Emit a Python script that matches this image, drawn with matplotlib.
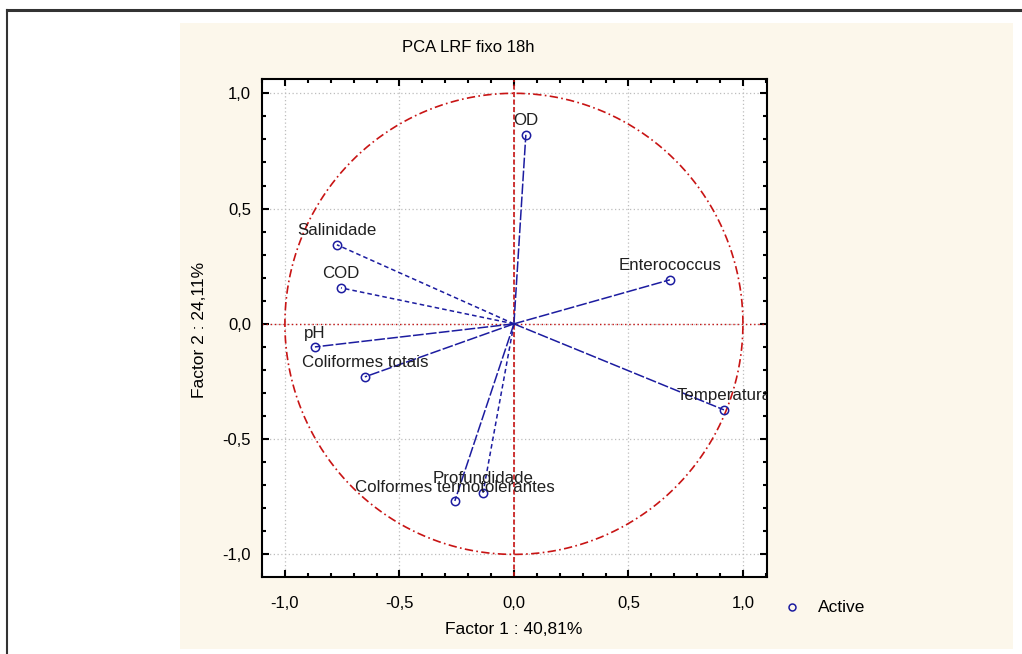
import numpy as np
import matplotlib
matplotlib.use("Agg")
import matplotlib.pyplot as plt
import matplotlib.transforms as mtransforms
from matplotlib.lines import Line2D
from matplotlib.patches import Rectangle
from matplotlib.ticker import MultipleLocator, FuncFormatter

plt.rcParams['font.family'] = ['Liberation Sans', 'DejaVu Sans']

# ---- data ----
variables = ["OD", "Enterococcus", "Temperatura", "Salinidade", "COD", "pH",
             "Coliformes totais", "Colformes termotolerantes", "Profundidade"]
factor1 = [0.052, 0.681, 0.917, -0.773, -0.755, -0.869, -0.651, -0.258, -0.135]
factor2 = [0.820, 0.191, -0.373, 0.343, 0.156, -0.100, -0.230, -0.768, -0.733]
title = "PCA LRF fixo 18h"
xlabel = "Factor 1 : 40,81%"
ylabel = "Factor 2 : 24,11%"
legend_label = "Active"

# styles per vector (dashed vs near-solid)
dashed_vars = {"Salinidade", "COD", "Profundidade"}

W, H = 1022, 654
fig = plt.figure(figsize=(W / 100, H / 100), dpi=100)
fig.patch.set_facecolor("white")

def fx(px):
    return px / W

def fy(py):
    return 1 - py / H

# beige panel
fig.add_artist(Rectangle((fx(180), fy(649)), fx(1013) - fx(180), fy(23) - fy(649),
                         transform=fig.transFigure, facecolor="#fcf7eb",
                         edgecolor="none", zorder=-10))
# page border (top and left)
fig.add_artist(Line2D([fx(7), 1.0], [fy(10), fy(10)], transform=fig.transFigure,
                      color="#333333", lw=2.2))
fig.add_artist(Line2D([fx(7), fx(7)], [fy(10), 0.0], transform=fig.transFigure,
                      color="#333333", lw=1.5))

ax = fig.add_axes([fx(262), fy(577), fx(767) - fx(262), fy(79) - fy(577)])
ax.set_facecolor("white")
ax.set_xlim(-1.1, 1.105)
ax.set_ylim(-1.098, 1.062)

# grid
ax.xaxis.set_major_locator(MultipleLocator(0.5))
ax.yaxis.set_major_locator(MultipleLocator(0.5))
ax.xaxis.set_minor_locator(MultipleLocator(0.1))
ax.yaxis.set_minor_locator(MultipleLocator(0.1))
ax.grid(True, which="major", color="#bdbdbd", linestyle=(0, (1, 2)), lw=0.9)
ax.set_axisbelow(True)

fmt = FuncFormatter(lambda v, p: ("%.1f" % v).replace(".", ",").replace("-0,0", "0,0"))
ax.xaxis.set_major_formatter(fmt)
ax.yaxis.set_major_formatter(fmt)
ax.tick_params(which="both", direction="in", top=True, right=True,
               labelsize=12, colors="black", width=1.5)
ax.tick_params(which="major", length=5)
ax.tick_params(which="minor", length=3)
ax.tick_params(axis="x", which="major", pad=14)
ax.tick_params(axis="y", which="major", pad=8)
for s in ax.spines.values():
    s.set_linewidth(1.5)

# unit circle
t = np.linspace(0, 2 * np.pi, 400)
ax.plot(np.cos(t), np.sin(t), color="#c81414", lw=1.2, linestyle=(0, (5, 2, 1, 2)), zorder=2)
# center lines
ax.axvline(0, color="#c81414", lw=1.2, linestyle=(0, (3, 1.5)), zorder=2)
ax.axhline(0, color="#c81414", lw=1.0, linestyle=(0, (1, 2)), zorder=2)

blue = "#1c1ca0"
for name, x, y in zip(variables, factor1, factor2):
    ls = (0, (3, 2)) if name in dashed_vars else (0, (7, 1.5))
    ax.plot([0, x], [0, y], color=blue, lw=1.1, linestyle=ls, zorder=3)
    ax.plot([x], [y], marker="o", ms=6, mfc="none", mec=blue, mew=1.1, zorder=4)
    tr = mtransforms.offset_copy(ax.transData, fig=fig, x=0, y=10, units="points")
    ax.text(x, y, name, transform=tr, ha="center", va="center", fontsize=12.2,
            color="#202020", clip_on=True, zorder=5)

fig.text(fx(468), fy(47), title, ha="center", va="center", fontsize=12)
fig.text(fx(514), fy(629), xlabel, ha="center", va="center", fontsize=12.5)
fig.text(fx(200), fy(330), ylabel, ha="center", va="center", fontsize=12.5, rotation=90)

fig.add_artist(Line2D([fx(792)], [fy(607)], transform=fig.transFigure, marker="o",
                      ms=5, mfc="none", mec=blue, mew=1.1, linestyle="none"))
fig.text(fx(818), fy(607), legend_label, ha="left", va="center", fontsize=12.5)

fig.savefig("out.png", dpi=100)
